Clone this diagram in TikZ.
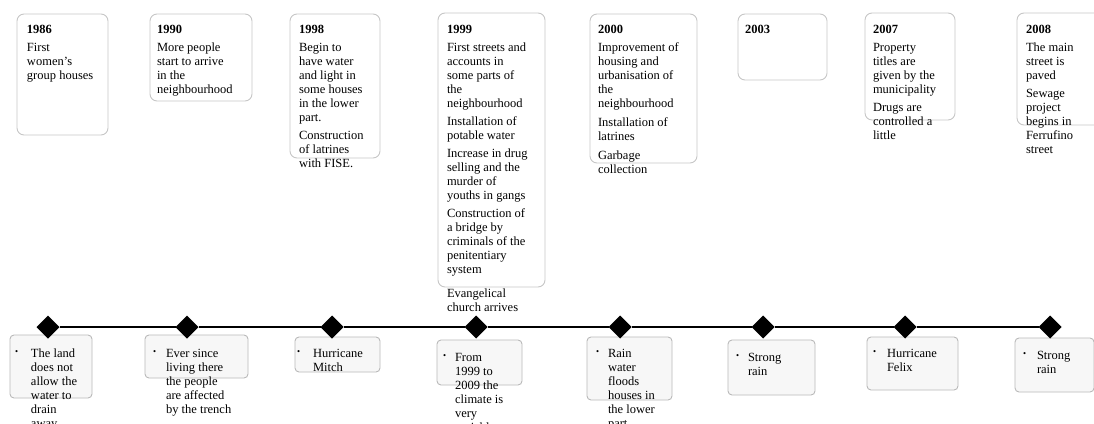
\documentclass[tikz,border=0pt]{standalone}
\usepackage{fontspec}
\setmainfont{Liberation Serif}
\usepackage{graphicx}
\usetikzlibrary{shapes.geometric}

% body font with matching strut, so tabular rows follow the same line spacing
\newcommand\dfont{\fontsize{12.5}{14}\selectfont
  \setbox\strutbox\hbox{\vrule height 9.8pt depth 4.2pt width 0pt}}
% small raised bullet
\newcommand\bdot{\raisebox{3pt}{\scalebox{0.7}{\textbullet}}}
% bulleted entry: #1 = bullet column width (pt), #2 = lines (rows after the first start with &)
\newcommand\bitem[2]{\begin{tabular}[t]{@{}l@{}l@{}}\makebox[#1pt][l]{\bdot}&#2\end{tabular}}

\begin{document}
\begin{tikzpicture}[x=1pt,y=-1pt,
  every node/.style={inner sep=0pt, outer sep=0pt},
  txt/.style={anchor=north west, align=left, font=\dfont},
  tbox/.style={draw=gray!45, line width=0.9pt, rounded corners=7pt},
  bbox/.style={draw=gray!55, line width=0.9pt, rounded corners=4pt, fill=gray!6},
  event/.style={diamond, aspect=1, fill=black, minimum size=23pt},
  axis/.style={line width=2.2pt}]

\useasboundingbox (0,0) rectangle (1094,423);

% ---------- upper boxes (year milestones) ----------
\node[tbox, minimum width=91pt,  minimum height=121pt] (b1986) at (62.5,74.5) {};
\node[tbox, minimum width=102pt, minimum height=87pt]  (b1990) at (201,57.5) {};
\node[tbox, minimum width=90pt,  minimum height=144pt] (b1998) at (335,86) {};
\node[tbox, minimum width=107pt, minimum height=274pt] (b1999) at (491.5,150) {};
\node[tbox, minimum width=107pt, minimum height=149pt] (b2000) at (643.5,88.5) {};
\node[tbox, minimum width=89pt,  minimum height=66pt]  (b2003) at (782.5,47) {};
\node[tbox, minimum width=90pt,  minimum height=107pt] (b2007) at (910,66.5) {};
\node[tbox, minimum width=100pt, minimum height=112pt] (b2008) at (1067,69) {};

% ---------- lower boxes (environment) ----------
\node[bbox, minimum width=82pt,  minimum height=63pt] (bb1) at (51,366.5) {};
\node[bbox, minimum width=103pt, minimum height=43pt] (bb2) at (196.5,356.5) {};
\node[bbox, minimum width=85pt,  minimum height=35pt] (bb3) at (337.5,354.5) {};
\node[bbox, minimum width=85pt,  minimum height=45pt] (bb4) at (479.5,362.5) {};
\node[bbox, minimum width=85pt,  minimum height=63pt] (bb5) at (629.5,368.5) {};
\node[bbox, minimum width=87pt,  minimum height=55pt] (bb6) at (771.5,367.5) {};
\node[bbox, minimum width=91pt,  minimum height=53pt] (bb7) at (912.5,363.5) {};
\node[bbox, minimum width=79pt,  minimum height=54pt] (bb8) at (1054.5,365) {};

% ---------- timeline ----------
\node[event] (d1) at (48,327) {};
\node[event] (d2) at (187,327) {};
\node[event] (d3) at (332,327) {};
\node[event] (d4) at (476,327) {};
\node[event] (d5) at (620,327) {};
\node[event] (d6) at (763,327) {};
\node[event] (d7) at (905,327) {};
\node[event] (d8) at (1050,327) {};
\foreach \a/\b in {d1/d2,d2/d3,d3/d4,d4/d5,d5/d6,d6/d7,d7/d8}
  \draw[axis] (\a) -- (\b);

% ---------- upper texts ----------
\node[txt] (t1986) at (27,25.5) {\textbf{1986}\\[4pt]
  First\\women's\\group houses};
\node[txt] (t1990) at (157,25.5) {\textbf{1990}\\[4pt]
  More people\\start to arrive\\in the\\neighbourhood};
\node[txt] (t1998) at (299,25.5) {\textbf{1998}\\[4pt]
  Begin to\\have water\\and light in\\some houses\\in the lower\\part.\\[4pt]
  Construction\\of latrines\\with FISE.};
\node[txt] (t1999) at (447,25.5) {\textbf{1999}\\[4pt]
  First streets and\\accounts in\\some parts of\\the\\neighbourhood\\[4pt]
  Installation of\\potable water\\[4pt]
  Increase in drug\\selling and the\\murder of\\youths in gangs\\[4pt]
  Construction of\\a bridge by\\criminals of the\\penitentiary\\system\\[10pt]
  Evangelical\\church arrives};
\node[txt] (t2000) at (598,25.5) {\textbf{2000}\\[4pt]
  Improvement of\\housing and\\urbanisation of\\the\\neighbourhood\\[5pt]
  Installation of\\latrines\\[5pt]
  Garbage\\collection};
\node[txt] (t2003) at (745,25.5) {\textbf{2003}};
\node[txt] (t2007) at (873,25.5) {\textbf{2007}\\[4pt]
  Property\\titles are\\given by the\\municipality\\[4pt]
  Drugs are\\controlled a\\little};
\node[txt] (t2008) at (1026,25.5) {\textbf{2008}\\[4pt]
  The main\\street is\\paved\\[4pt]
  Sewage\\project\\begins in\\Ferrufino\\street};

% ---------- lower texts ----------
\node[txt] (e1) at (15,347.4)  {\bitem{16}{The land\\&does not\\&allow the\\&water to\\&drain\\&away}};
\node[txt] (e2) at (153,347.4) {\bitem{13}{Ever since\\&living there\\&the people\\&are affected\\&by the trench}};
\node[txt] (e3) at (297,347.4) {\bitem{16}{Hurricane\\&Mitch}};
\node[txt] (e4) at (443,351.4) {\bitem{12}{From\\&1999 to\\&2009 the\\&climate is\\&very\\&variable}};
\node[txt] (e5) at (596,347.4) {\bitem{12}{Rain\\&water\\&floods\\&houses in\\&the lower\\&part}};
\node[txt] (e6) at (736,351.4) {\bitem{12}{Strong\\&rain}};
\node[txt] (e7) at (873,347.4) {\bitem{14}{Hurricane\\&Felix}};
\node[txt] (e8) at (1023,349.4) {\bitem{14}{Strong\\&rain}};
\end{tikzpicture}
\end{document}
